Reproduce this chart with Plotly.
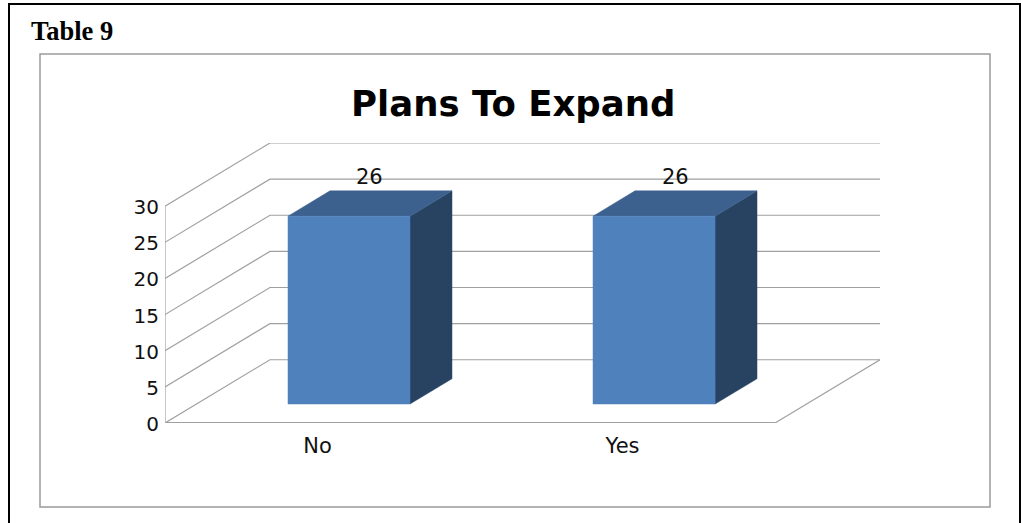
import plotly.graph_objects as go

# Chart data
categories = ["No", "Yes"]
responses = [26, 26]
y_ticks = [0, 5, 10, 15, 20, 25, 30]

# Oblique projection of the 3D column chart, in axis units
DEPTH_X = 0.344   # horizontal shift of the back wall, in category slots
DEPTH_Y = 8.75    # vertical shift of the back wall, in value units
BAR_HALF = 0.2
BAR_NEAR, BAR_FAR = 0.3, 0.7
X_MIN, X_MAX = -0.5, 1.5
Y_TOP = max(y_ticks)

W, H = 1021, 523
ML, MR, MT, MB = 165, 141, 143, 100

GRID = "#a0a0a0"
FRONT = "#4f81bd"
SIDE = "#284262"
TOP = "#3c618e"


def project(x, y, d):
    return x + d * DEPTH_X, y + d * DEPTH_Y


def page_x(px):
    return (px - ML) / (W - ML - MR)


def page_y(py):
    return 1 - (py - MT) / (H - MT - MB)


def add_line(fig, pts, color=GRID, width=1.2):
    xs, ys = zip(*pts)
    fig.add_trace(go.Scatter(x=xs, y=ys, mode="lines", hoverinfo="skip",
                             line=dict(color=color, width=width)))


def add_face(fig, pts, color):
    xs, ys = zip(*(pts + pts[:1]))
    fig.add_trace(go.Scatter(x=xs, y=ys, mode="lines", fill="toself", fillcolor=color,
                             line=dict(color=color, width=0.5), hoverinfo="skip"))


fig = go.Figure()

# Gridlines running along the side wall and across the back wall
for v in y_ticks:
    add_line(fig, [project(X_MIN, v, 0), project(X_MIN, v, 1), project(X_MAX, v, 1)])

# Floor edges and the value axis
add_line(fig, [project(X_MIN, 0, 0), project(X_MAX, 0, 0), project(X_MAX, 0, 1)])
add_line(fig, [project(X_MIN, 0, 0), project(X_MIN, Y_TOP, 0)])
add_line(fig, [project(X_MIN, 0, 0), project(X_MAX, 0, 0)], width=2)

# Columns: side, top and front faces
for i, v in enumerate(responses):
    left, right = i - BAR_HALF, i + BAR_HALF
    add_face(fig, [project(right, 0, BAR_NEAR), project(right, 0, BAR_FAR),
                   project(right, v, BAR_FAR), project(right, v, BAR_NEAR)], SIDE)
    add_face(fig, [project(left, v, BAR_NEAR), project(right, v, BAR_NEAR),
                   project(right, v, BAR_FAR), project(left, v, BAR_FAR)], TOP)
    add_face(fig, [project(left, 0, BAR_NEAR), project(right, 0, BAR_NEAR),
                   project(right, v, BAR_NEAR), project(left, v, BAR_NEAR)], FRONT)

# Value labels above each column
annotations = []
for i, v in enumerate(responses):
    lx, ly = project(i, v, (BAR_NEAR + BAR_FAR) / 2)
    annotations.append(dict(x=lx, y=ly, xref="x", yref="y", text=str(v), showarrow=False,
                            yshift=27, xanchor="center", yanchor="middle",
                            font=dict(family="DejaVu Sans", size=21, color="#111111")))

annotations += [
    dict(x=page_x(513), y=page_y(103), xref="paper", yref="paper", text="<b>Plans To Expand</b>",
         showarrow=False, xanchor="center", yanchor="middle",
         font=dict(family="DejaVu Sans", size=35.5, color="#000000")),
    dict(x=page_x(29), y=page_y(31), xref="paper", yref="paper", text="<b>Table 9</b>",
         showarrow=False, xanchor="left", yanchor="middle",
         font=dict(family="Liberation Serif", size=26.5, color="#000000")),
]

# Outer page border and the chart frame
shapes = [
    dict(type="rect", xref="paper", yref="paper", layer="below",
         x0=page_x(9), x1=page_x(1020), y0=page_y(4), y1=page_y(530),
         line=dict(color="#000000", width=2)),
    dict(type="rect", xref="paper", yref="paper", layer="below",
         x0=page_x(40), x1=page_x(990), y0=page_y(54), y1=page_y(507),
         line=dict(color="#9a9a9a", width=1.5)),
]

fig.update_layout(
    width=W, height=H,
    margin=dict(l=ML, r=MR, t=MT, b=MB, pad=0),
    paper_bgcolor="#ffffff", plot_bgcolor="rgba(0,0,0,0)",
    showlegend=False,
    annotations=annotations, shapes=shapes,
    xaxis=dict(range=[X_MIN, X_MAX + DEPTH_X], tickvals=list(range(len(categories))),
               ticktext=categories, showgrid=False, zeroline=False, showline=False,
               ticks="outside", ticklen=4, tickcolor="rgba(0,0,0,0)",
               tickfont=dict(family="DejaVu Sans", size=21, color="#111111")),
    yaxis=dict(range=[0, Y_TOP + DEPTH_Y], tickvals=y_ticks, showgrid=False, zeroline=False,
               showline=False, ticks="outside", ticklen=1, tickcolor="rgba(0,0,0,0)",
               ticklabelshift=1,
               tickfont=dict(family="DejaVu Sans", size=20, color="#111111")),
)

fig.write_html("out.html", config=dict(displayModeBar=False))
